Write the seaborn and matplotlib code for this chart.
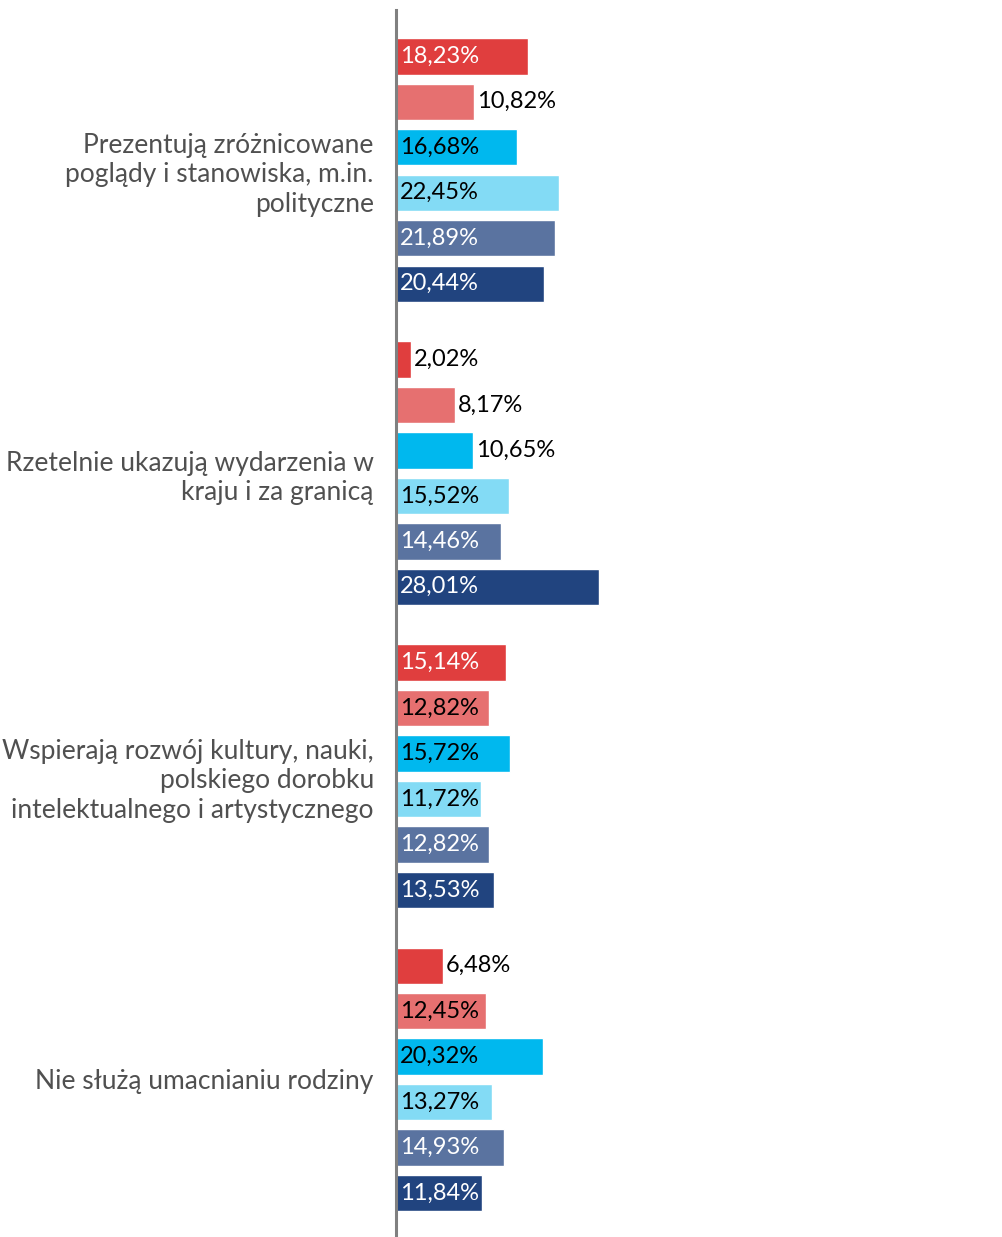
import pandas as pd
import seaborn as sns
import matplotlib.pyplot as plt

sns.set_style("white")
plt.rcParams['font.family'] = ['Lato', 'DejaVu Sans']

# categories (statements) and the six respondent groups
categories = [
    "Prezentują zróżnicowane\npoglądy i stanowiska, m.in.\npolityczne",
    "Rzetelnie ukazują wydarzenia w\nkraju i za granicą",
    "Wspierają rozwój kultury, nauki,\npolskiego dorobku\nintelektualnego i artystycznego",
    "Nie służą umacnianiu rodziny",
]
groups = ["Grupa 1", "Grupa 2", "Grupa 3", "Grupa 4", "Grupa 5", "Grupa 6"]

# values per group, one entry per category
g1 = [18.23, 2.02, 15.14, 6.48]
g2 = [10.82, 8.17, 12.82, 12.45]
g3 = [16.68, 10.65, 15.72, 20.32]
g4 = [22.45, 15.52, 11.72, 13.27]
g5 = [21.89, 14.46, 12.82, 14.93]
g6 = [20.44, 28.01, 13.53, 11.84]

colors = ["#E03E3E", "#E67070", "#00B8EE", "#83DBF5", "#5A73A0", "#21447F"]
inside_text = ["white", "black", "black", "black", "white", "white"]

rows = []
for grp, vals in zip(groups, [g1, g2, g3, g4, g5, g6]):
    for cat, v in zip(categories, vals):
        rows.append({"cat": cat, "grp": grp, "val": v})
df = pd.DataFrame(rows)

fig = plt.figure(figsize=(10.03, 12.37), dpi=100)
ax = fig.add_axes([396 / 1003, 0, 1 - 396 / 1003, (1237 - 10) / 1237])

sns.barplot(data=df, y="cat", x="val", hue="grp", order=categories,
            hue_order=groups, palette=colors, orient="h", width=0.9,
            gap=0.2, legend=False, saturation=1, ax=ax)

ax.set_xlim(0, 83.7)
ax.set_ylim(3.52, -0.528)
ax.set_xlabel("")
ax.set_ylabel("")
ax.set_xticks([])
for s in ["top", "right", "bottom"]:
    ax.spines[s].set_visible(False)
ax.spines["left"].set_color("#808080")
ax.spines["left"].set_linewidth(2.2)
ax.tick_params(axis="y", length=0, pad=16)
for lab in ax.get_yticklabels():
    lab.set_fontsize(19)
    lab.set_color("#505050")
    lab.set_linespacing(1.22)
    lab.set_horizontalalignment("right")

# value labels: inside the bar when it fits, otherwise right after it
for i, cont in enumerate(ax.containers):
    for bar, v in zip(cont, [g1, g2, g3, g4, g5, g6][i]):
        y = bar.get_y() + bar.get_height() / 2
        txt = f"{v:.2f}%".replace(".", ",")
        if v >= 11:
            ax.text(0.5, y, txt, va="center", ha="left", fontsize=17,
                    color=inside_text[i])
        else:
            ax.text(v + 0.4, y, txt, va="center", ha="left", fontsize=17,
                    color="black")

fig.savefig("out.png", dpi=100)
